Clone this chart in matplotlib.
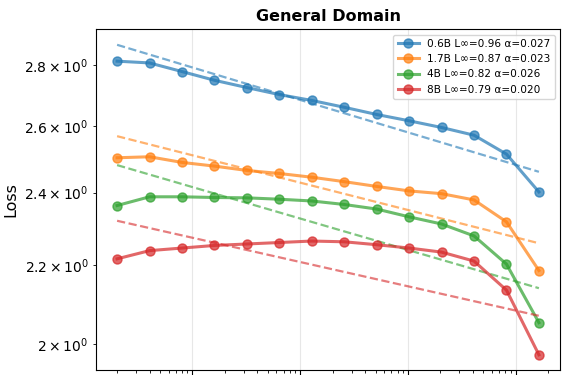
import numpy as np
import matplotlib
matplotlib.use('Agg')
import matplotlib.pyplot as plt

# data (x doubles each step, log-log axes)
tokens = [0.2, 0.4, 0.8, 1.6, 3.2, 6.4, 12.8, 25.6, 51.2, 102.4, 204.8, 409.6, 819.2, 1638.4]

loss_06b = [2.812, 2.806, 2.777, 2.748, 2.724, 2.701, 2.682, 2.660, 2.637, 2.617, 2.596, 2.572, 2.514, 2.402]
loss_17b = [2.503, 2.506, 2.489, 2.478, 2.465, 2.456, 2.445, 2.432, 2.418, 2.405, 2.397, 2.379, 2.317, 2.185]
loss_4b = [2.363, 2.388, 2.388, 2.386, 2.385, 2.381, 2.376, 2.366, 2.353, 2.331, 2.311, 2.278, 2.202, 2.052]
loss_8b = [2.216, 2.238, 2.245, 2.252, 2.256, 2.260, 2.264, 2.262, 2.254, 2.245, 2.234, 2.210, 2.134, 1.974]

# fitted power-law lines, value at first and last x
fit_06b = [2.868, 2.461]
fit_17b = [2.569, 2.258]
fit_4b = [2.481, 2.139]
fit_8b = [2.320, 2.069]

labels = ['0.6B L∞=0.96 α=0.027', '1.7B L∞=0.87 α=0.023',
          '4B L∞=0.82 α=0.026', '8B L∞=0.79 α=0.020']
colors = ['#1f77b4', '#ff7f0e', '#2ca02c', '#d62728']

fig = plt.figure(figsize=(5.71, 3.75), dpi=100)
ax = fig.add_axes([96/571, 4.7/375, 464/571, 341/375])

series = [loss_06b, loss_17b, loss_4b, loss_8b]
fits = [fit_06b, fit_17b, fit_4b, fit_8b]
fit_x = [tokens[0], tokens[-1]]
for y, f, lab, c in zip(series, fits, labels, colors):
    ax.plot(tokens, y, 'o-', color=c, lw=2.2, ms=6.5, alpha=0.7, label=lab)
    ax.plot(fit_x, f, '--', color=c, lw=1.6, alpha=0.6)

ax.set_xscale('log')
ax.set_yscale('log')
ax.grid(True, alpha=0.3)
ax.set_ylabel('Loss', fontsize=11.5)
ax.set_title('General Domain', fontsize=11.5, fontweight='bold')
ax.tick_params(axis='y', which='both', labelsize=10)
# x tick labels fall below the cropped bottom edge in the reference
ax.tick_params(axis='x', which='both', labelbottom=False)
ax.legend(loc='upper right', fontsize=7.6)

plt.savefig('out.png', dpi=100)
